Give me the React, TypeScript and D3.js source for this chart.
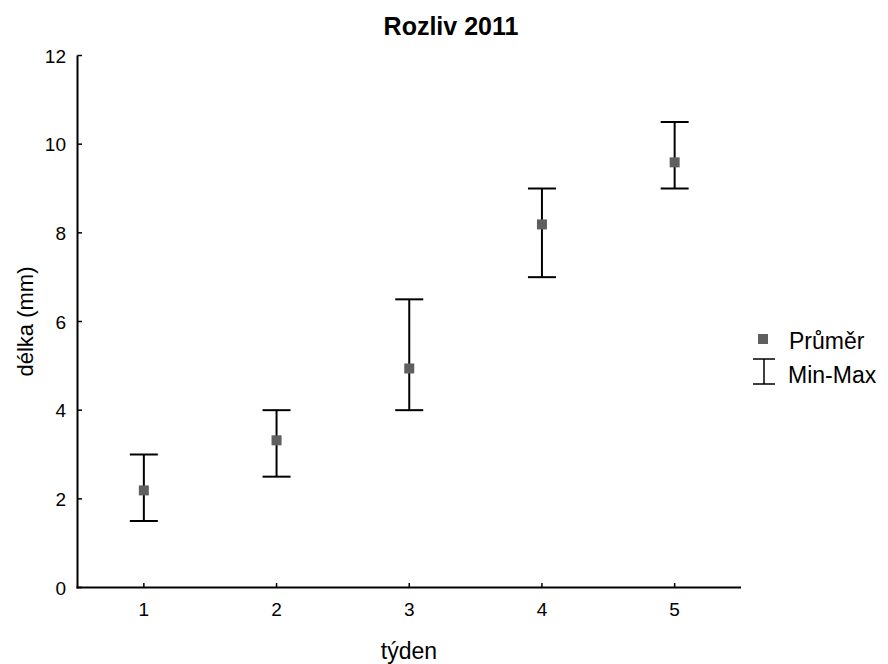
import React from "react";
import * as d3 from "d3";

const weeks = [1, 2, 3, 4, 5];
const means = [2.19, 3.32, 4.94, 8.19, 9.59];
const mins = [1.5, 2.5, 4.0, 7.0, 9.0];
const maxs = [3.0, 4.0, 6.5, 9.0, 10.5];
const yTicks = [0, 2, 4, 6, 8, 10, 12];

export default function App() {
  const W = 888, H = 664;
  const x = d3.scaleLinear().domain([0.5, 5.5]).range([77.5, 741]);
  const y = d3.scaleLinear().domain([0, 12]).range([587.5, 55.5]);
  const font = "Arial, 'Liberation Sans', sans-serif";
  const cap = 14;
  const sq = 10;
  return (
    <svg width={W} height={H} style={{ position: "absolute", left: 0, top: 0, background: "#fff" }} fontFamily={font}>
      <rect width={W} height={H} fill="#fff" />
      <text x={451} y={35} textAnchor="middle" fontSize={25} fontWeight="bold">Rozliv 2011</text>
      {/* axes */}
      <line x1={77.5} x2={77.5} y1={y(12)} y2={y(0) + 1} stroke="#000" strokeWidth={2} />
      <line x1={76.5} x2={741} y1={y(0)} y2={y(0)} stroke="#000" strokeWidth={2} />
      {yTicks.map((t) => (
        <g key={t}>
          <line x1={77.5} x2={82} y1={y(t)} y2={y(t)} stroke="#000" strokeWidth={1.5} />
          <text x={66} y={y(t) + 7} textAnchor="end" fontSize={19}>{t}</text>
        </g>
      ))}
      {weeks.map((w) => (
        <g key={w}>
          <line x1={x(w)} x2={x(w)} y1={y(0)} y2={y(0) - 4.5} stroke="#000" strokeWidth={1.5} />
          <text x={x(w)} y={616} textAnchor="middle" fontSize={19}>{w}</text>
        </g>
      ))}
      <text x={409} y={659} textAnchor="middle" fontSize={23}>týden</text>
      <text transform={`translate(33,${y(6)}) rotate(-90)`} textAnchor="middle" fontSize={22}>délka (mm)</text>
      {/* error bars */}
      {weeks.map((w, i) => (
        <g key={"e" + w}>
          <line x1={x(w)} x2={x(w)} y1={y(mins[i])} y2={y(maxs[i])} stroke="#000" strokeWidth={2} />
          <line x1={x(w) - cap} x2={x(w) + cap} y1={y(mins[i])} y2={y(mins[i])} stroke="#000" strokeWidth={2} />
          <line x1={x(w) - cap} x2={x(w) + cap} y1={y(maxs[i])} y2={y(maxs[i])} stroke="#000" strokeWidth={2} />
          <rect x={x(w) - sq / 2} y={y(means[i]) - sq / 2} width={sq} height={sq} fill="#5f5f5f" />
        </g>
      ))}
      {/* legend */}
      <rect x={758} y={334} width={10} height={10} fill="#5f5f5f" />
      <text x={789} y={349} fontSize={23}>Průměr</text>
      <line x1={764} x2={764} y1={359} y2={384} stroke="#000" strokeWidth={1.5} />
      <line x1={753} x2={775} y1={359} y2={359} stroke="#000" strokeWidth={1.5} />
      <line x1={753} x2={775} y1={384} y2={384} stroke="#000" strokeWidth={1.5} />
      <text x={788} y={383} fontSize={23}>Min-Max</text>
    </svg>
  );
}
